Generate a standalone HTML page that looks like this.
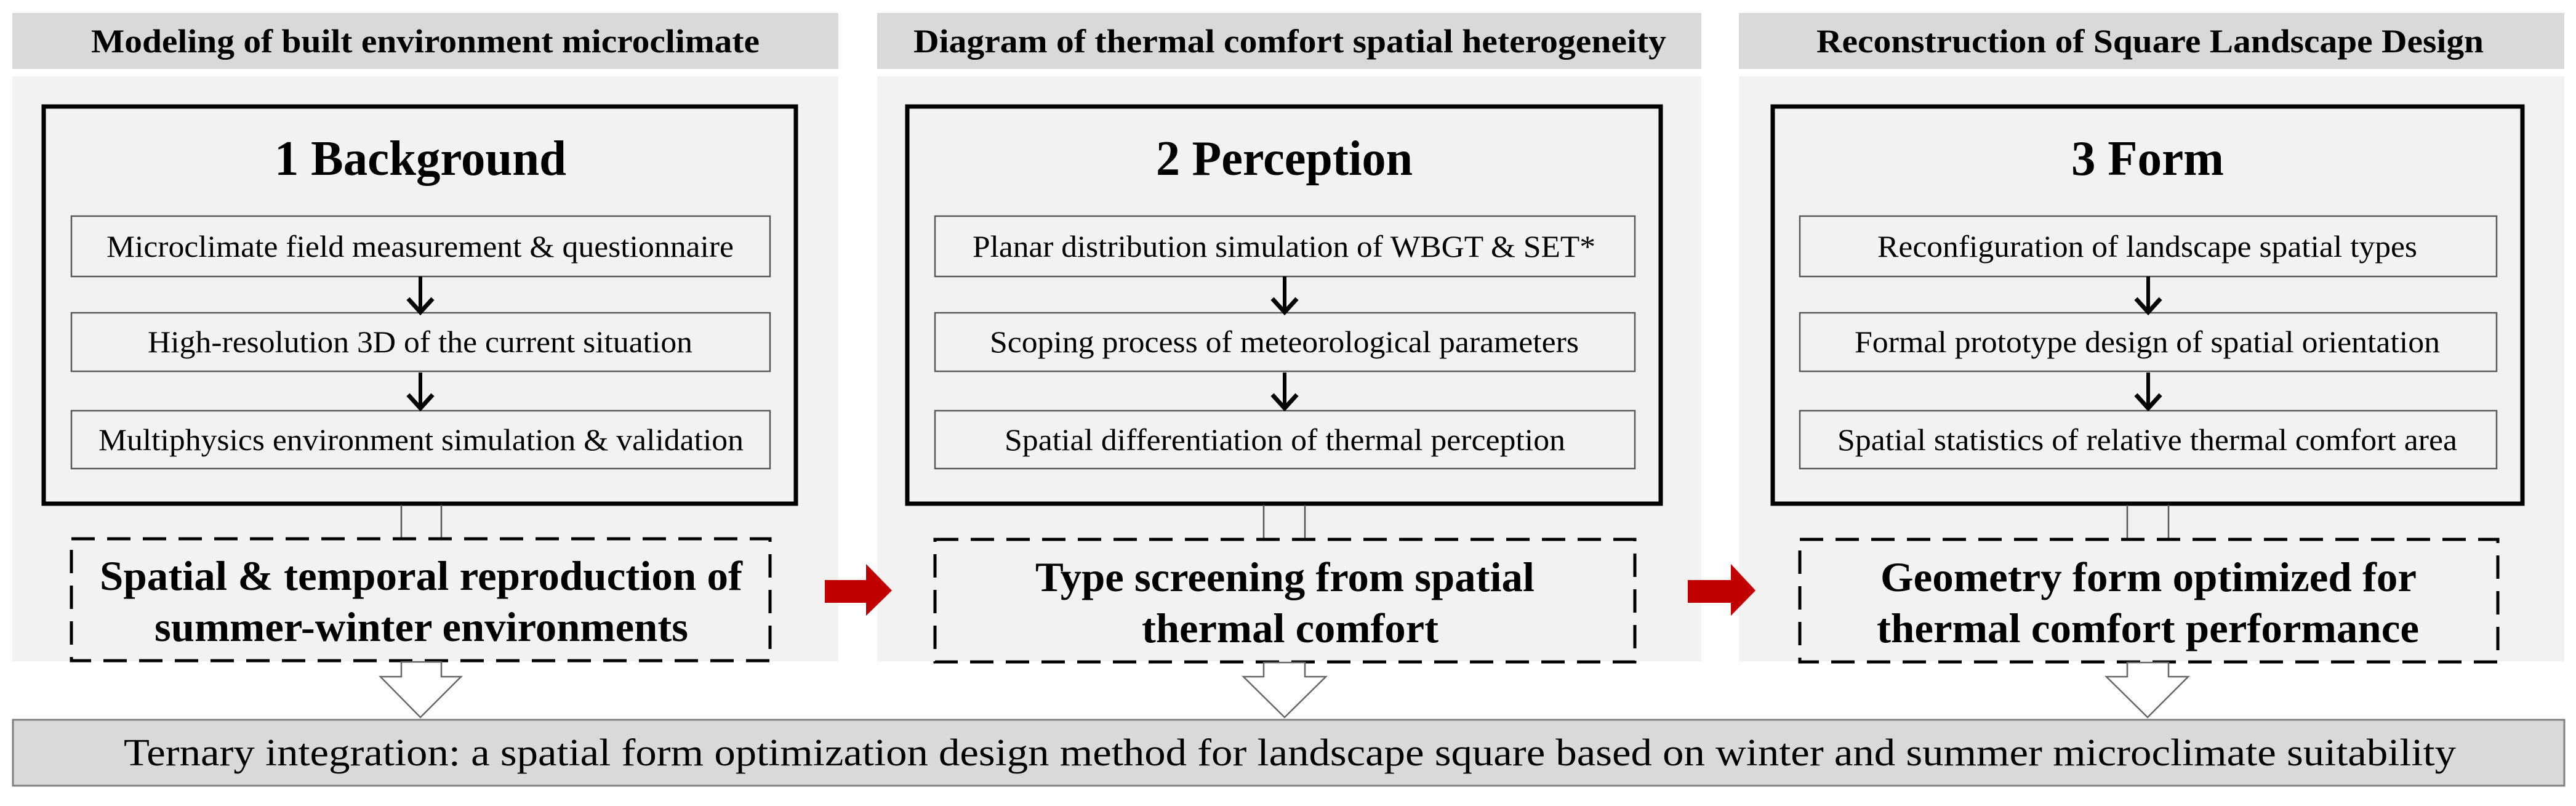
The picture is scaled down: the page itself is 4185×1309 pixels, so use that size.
<!DOCTYPE html>
<html><head><meta charset="utf-8"><style>
html,body{margin:0;padding:0;background:#fff;}
svg{display:block;}
svg text{font-family:"Liberation Serif","Tinos","Times New Roman","DejaVu Serif",serif;}
</style></head><body>
<svg width="4185" height="1309" viewBox="0 0 4185 1309" xmlns="http://www.w3.org/2000/svg">
<defs>
<g id="sa"><line x1="0" y1="0" x2="0" y2="56" stroke="#000" stroke-width="6"/><polyline points="-20,36 0,58 20,36" fill="none" stroke="#000" stroke-width="7"/></g>
</defs>
<rect x="20" y="21" width="1342" height="91" fill="#d9d9d9"/>
<rect x="1425" y="21" width="1339" height="91" fill="#d9d9d9"/>
<rect x="2825" y="21" width="1341" height="91" fill="#d9d9d9"/>
<g font-weight="bold" font-size="54" lengthAdjust="spacingAndGlyphs">
<text x="148" y="85" textLength="1086" lengthAdjust="spacingAndGlyphs">Modeling of built environment microclimate</text>
<text x="1484" y="85" textLength="1223" lengthAdjust="spacingAndGlyphs">Diagram of thermal comfort spatial heterogeneity</text>
<text x="2951" y="85" textLength="1084" lengthAdjust="spacingAndGlyphs">Reconstruction of Square Landscape Design</text>
</g>
<rect x="20" y="124" width="1342" height="950" fill="#f2f2f2"/>
<rect x="1425" y="124" width="1339" height="950" fill="#f2f2f2"/>
<rect x="2825" y="124" width="1341" height="950" fill="#f2f2f2"/>

<rect x="71" y="173" width="1222" height="645" fill="none" stroke="#000" stroke-width="7"/>
<text x="446" y="284" font-size="80" font-weight="bold" textLength="474" lengthAdjust="spacingAndGlyphs">1 Background</text>
<g fill="none" stroke="#595959" stroke-width="2.5">
<rect x="116" y="351" width="1135" height="98"/><rect x="116" y="508" width="1135" height="95"/><rect x="116" y="667" width="1135" height="94"/>
</g>
<g font-size="50">
<text x="173" y="417" textLength="1019" lengthAdjust="spacingAndGlyphs">Microclimate field measurement &amp; questionnaire</text>
<text x="240" y="572" textLength="885" lengthAdjust="spacingAndGlyphs">High-resolution 3D of the current situation</text>
<text x="160" y="731" textLength="1048" lengthAdjust="spacingAndGlyphs">Multiphysics environment simulation &amp; validation</text>
</g>
<use href="#sa" x="683" y="449"/><use href="#sa" x="683" y="605"/>
<line x1="652" y1="820" x2="652" y2="874" stroke="#555" stroke-width="2.5"/><line x1="717" y1="820" x2="717" y2="874" stroke="#555" stroke-width="2.5"/>
<rect x="116" y="875" width="1135" height="198" fill="none" stroke="#000" stroke-width="5" stroke-dasharray="38,20"/>
<g font-size="68" font-weight="bold">
<text x="162" y="958" textLength="1044" lengthAdjust="spacingAndGlyphs">Spatial &amp; temporal reproduction of</text>
<text x="251" y="1041" textLength="867" lengthAdjust="spacingAndGlyphs">summer-winter environments</text>
</g>
<polygon points="652,1075 717,1075 717,1099 749,1099 683,1165 618,1099 652,1099" fill="#fff" stroke="#666" stroke-width="2.5"/>

<rect x="1474" y="173" width="1224" height="645" fill="none" stroke="#000" stroke-width="7"/>
<text x="1878" y="284" font-size="80" font-weight="bold" textLength="417" lengthAdjust="spacingAndGlyphs">2 Perception</text>
<g fill="none" stroke="#595959" stroke-width="2.5">
<rect x="1519" y="351" width="1137" height="98"/><rect x="1519" y="508" width="1137" height="95"/><rect x="1519" y="667" width="1137" height="94"/>
</g>
<g font-size="50">
<text x="1580" y="417" textLength="1012" lengthAdjust="spacingAndGlyphs">Planar distribution simulation of WBGT &amp; SET*</text>
<text x="1608" y="572" textLength="957" lengthAdjust="spacingAndGlyphs">Scoping process of meteorological parameters</text>
<text x="1632" y="731" textLength="911" lengthAdjust="spacingAndGlyphs">Spatial differentiation of thermal perception</text>
</g>
<use href="#sa" x="2087" y="449"/><use href="#sa" x="2087" y="605"/>
<line x1="2053" y1="820" x2="2053" y2="874" stroke="#555" stroke-width="2.5"/><line x1="2120" y1="820" x2="2120" y2="874" stroke="#555" stroke-width="2.5"/>
<rect x="1519" y="876" width="1137" height="199" fill="none" stroke="#000" stroke-width="5" stroke-dasharray="38,20"/>
<g font-size="68" font-weight="bold">
<text x="1682" y="960" textLength="811" lengthAdjust="spacingAndGlyphs">Type screening from spatial</text>
<text x="1855" y="1043" textLength="482" lengthAdjust="spacingAndGlyphs">thermal comfort</text>
</g>
<polygon points="2053,1076 2120,1076 2120,1099 2154,1099 2087,1165 2020,1099 2053,1099" fill="#fff" stroke="#666" stroke-width="2.5"/>

<rect x="2880" y="173" width="1218" height="645" fill="none" stroke="#000" stroke-width="7"/>
<text x="3365" y="284" font-size="80" font-weight="bold" textLength="248" lengthAdjust="spacingAndGlyphs">3 Form</text>
<g fill="none" stroke="#595959" stroke-width="2.5">
<rect x="2924" y="351" width="1132" height="98"/><rect x="2924" y="508" width="1132" height="95"/><rect x="2924" y="667" width="1132" height="94"/>
</g>
<g font-size="50">
<text x="3050" y="417" textLength="877" lengthAdjust="spacingAndGlyphs">Reconfiguration of landscape spatial types</text>
<text x="3013" y="572" textLength="951" lengthAdjust="spacingAndGlyphs">Formal prototype design of spatial orientation</text>
<text x="2985" y="731" textLength="1007" lengthAdjust="spacingAndGlyphs">Spatial statistics of relative thermal comfort area</text>
</g>
<use href="#sa" x="3490" y="449"/><use href="#sa" x="3490" y="605"/>
<line x1="3456" y1="820" x2="3456" y2="874" stroke="#555" stroke-width="2.5"/><line x1="3523" y1="820" x2="3523" y2="874" stroke="#555" stroke-width="2.5"/>
<rect x="2924" y="876" width="1134" height="199" fill="none" stroke="#000" stroke-width="5" stroke-dasharray="38,20"/>
<g font-size="68" font-weight="bold">
<text x="3055" y="960" textLength="871" lengthAdjust="spacingAndGlyphs">Geometry form optimized for</text>
<text x="3049" y="1043" textLength="881" lengthAdjust="spacingAndGlyphs">thermal comfort performance</text>
</g>
<polygon points="3456,1076 3523,1076 3523,1099 3555,1099 3489,1165 3422,1099 3456,1099" fill="#fff" stroke="#666" stroke-width="2.5"/>

<polygon points="1340,942 1407,942 1407,916 1449,959 1407,1000 1407,979 1340,979" fill="#c00000"/>
<polygon points="2742,942 2812,942 2812,916 2852,959 2812,1000 2812,979 2742,979" fill="#c00000"/>

<rect x="21" y="1169" width="4145" height="107" fill="#d9d9d9" stroke="#7f7f7f" stroke-width="3"/>
<text x="201" y="1243" font-size="62" textLength="3789" lengthAdjust="spacingAndGlyphs">Ternary integration: a spatial form optimization design method for landscape square based on winter and summer microclimate suitability</text>
</svg>
</body></html>
